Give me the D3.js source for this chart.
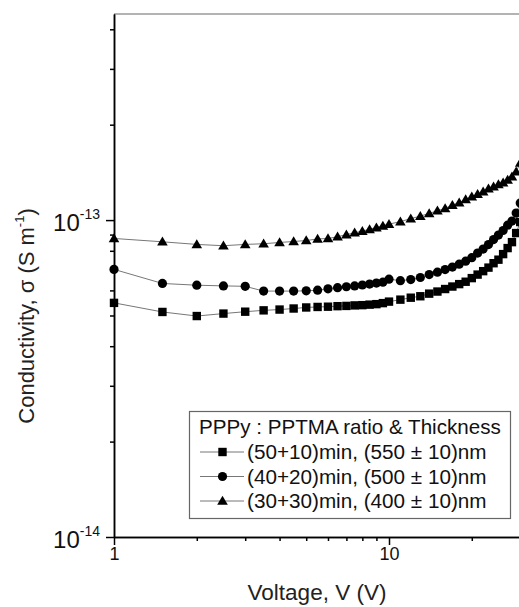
<!DOCTYPE html>
<html>
<head>
<meta charset="utf-8">
<script src="https://cdn.jsdelivr.net/npm/d3@7"></script>
<style>
  html, body { margin: 0; padding: 0; background: #fff; }
  svg { display: block; font-family: "Liberation Sans", Arial, Helvetica, sans-serif; }
</style>
</head>
<body>
<svg id="chart" width="519" height="607"></svg>
<script>
// Applied voltage (V)
const voltage = [1, 1.5, 2, 2.5, 3, 3.5, 4, 4.5, 5, 5.5, 6, 6.5, 7, 7.5, 8, 8.5, 9, 9.5, 10,
                 11, 12, 13, 14, 15, 16, 17, 18, 19, 20, 21, 22, 23, 24, 25, 26, 27, 28, 29, 30];

// Conductivity in units of 1e-13 S m^-1
const sigma5010 = [0.548, 0.513, 0.498, 0.507, 0.514, 0.519, 0.522, 0.526, 0.530, 0.532,
                   0.533, 0.535, 0.536, 0.538, 0.539, 0.541, 0.543, 0.547, 0.553,
                   0.561, 0.569, 0.575, 0.586, 0.595, 0.606, 0.617, 0.628, 0.639, 0.656,
                   0.673, 0.690, 0.708, 0.731, 0.750, 0.781, 0.816, 0.852, 0.910, 0.986];
const sigma4020 = [0.699, 0.631, 0.623, 0.620, 0.618, 0.597, 0.597, 0.597, 0.598, 0.601,
                   0.607, 0.612, 0.616, 0.620, 0.624, 0.628, 0.633, 0.637, 0.651,
                   0.644, 0.649, 0.659, 0.673, 0.685, 0.698, 0.711, 0.726, 0.742, 0.761,
                   0.787, 0.810, 0.837, 0.868, 0.897, 0.927, 0.964, 0.993, 1.052, 1.132];
const sigma3030 = [0.875, 0.854, 0.838, 0.830, 0.838, 0.842, 0.850, 0.856, 0.862, 0.872,
                   0.875, 0.886, 0.900, 0.912, 0.923, 0.935, 0.947, 0.959, 0.971,
                   0.989, 1.011, 1.029, 1.050, 1.070, 1.089, 1.115, 1.134, 1.162, 1.185,
                   1.208, 1.229, 1.256, 1.274, 1.296, 1.311, 1.338, 1.370, 1.421, 1.514];

const seriesNames = ["(50+10)min, (550 \u00B1 10)nm", "(40+20)min, (500 \u00B1 10)nm", "(30+30)min, (400 \u00B1 10)nm"];
const seriesSymbols = ["square", "circle", "triangle"];
const legendTitle = "PPPy : PPTMA ratio & Thickness";

const xMajorTicks = [1, 10];
const xMinorTicks = [2, 3, 4, 5, 6, 7, 8, 9, 20, 30];
const yMajorTicks = [0.1, 1];               // 1e-14, 1e-13
const yMajorExp = ["-14", "-13"];
const yMinorTicks = [0.2, 0.3, 0.4, 0.5, 0.6, 0.7, 0.8, 0.9, 2, 3, 4];

const series = [sigma5010, sigma4020, sigma3030].map((vals, i) => ({
  name: seriesNames[i],
  symbol: seriesSymbols[i],
  points: voltage.map((v, j) => ({ v, s: vals[j] }))
}));

const svg = d3.select("#chart");
const plotLeft = 114, plotTop = 14, plotBottom = 537;

const x = d3.scaleLog().domain([1, 100]).range([plotLeft, plotLeft + 550]);
const y = d3.scaleLog().domain([0.1, 4.47]).range([plotBottom, plotTop]);

// top frame line
svg.append("line")
  .attr("x1", plotLeft).attr("x2", 519).attr("y1", plotTop).attr("y2", plotTop)
  .attr("stroke", "#9a9a9a").attr("stroke-width", 1.5);

// x axis: minor then major ticks
const gxMinor = svg.append("g").attr("transform", `translate(0,${plotBottom})`)
  .call(d3.axisBottom(x).tickValues(xMinorTicks).tickSize(4).tickSizeOuter(0).tickFormat(""));
const gx = svg.append("g").attr("transform", `translate(0,${plotBottom})`)
  .call(d3.axisBottom(x).tickValues(xMajorTicks).tickSize(8).tickSizeOuter(0).tickPadding(2)
    .tickFormat(d3.format("d")));
gx.selectAll("text").attr("font-size", 18).attr("fill", "#111")
  .attr("font-family", "Liberation Sans, Arial, sans-serif");

// y axis
const gyMinor = svg.append("g").attr("transform", `translate(${plotLeft},0)`)
  .call(d3.axisLeft(y).tickValues(yMinorTicks).tickSize(4).tickSizeOuter(0).tickFormat(""));
const gy = svg.append("g").attr("transform", `translate(${plotLeft},0)`)
  .call(d3.axisLeft(y).tickValues(yMajorTicks).tickSize(8).tickSizeOuter(0).tickFormat(""));

[gxMinor, gx, gyMinor, gy].forEach(g => {
  g.selectAll("path.domain").attr("stroke", "#000").attr("stroke-width", 1.5);
  g.selectAll(".tick line").attr("stroke", "#000").attr("stroke-width", 1.5);
});

// y tick labels with exponent
yMajorTicks.forEach((t, i) => {
  const txt = svg.append("text")
    .attr("x", 100).attr("y", y(t) + 11)
    .attr("text-anchor", "end").attr("fill", "#111");
  txt.append("tspan").attr("font-size", 24).text("10");
  txt.append("tspan").attr("font-size", 14).attr("dy", -12).text(yMajorExp[i]);
});

// axis titles
svg.append("text")
  .attr("x", 317).attr("y", 600)
  .attr("text-anchor", "middle").attr("font-size", 22.5).attr("fill", "#222")
  .text("Voltage, V (V)");

const yt = svg.append("text")
  .attr("transform", "translate(34,316) rotate(-90)")
  .attr("text-anchor", "middle").attr("font-size", 22).attr("fill", "#222");
yt.append("tspan").text("Conductivity, \u03C3 (S m");
yt.append("tspan").attr("font-size", 13).attr("dy", -10).text("-1");
yt.append("tspan").attr("dy", 10).text(")");

// symbol generator
function drawSymbol(g, type, cx, cy) {
  if (type === "square") {
    g.append("rect").attr("x", cx - 4.2).attr("y", cy - 4.2).attr("width", 8.4).attr("height", 8.4).attr("fill", "#000");
  } else if (type === "circle") {
    g.append("circle").attr("cx", cx).attr("cy", cy).attr("r", 4.6).attr("fill", "#000");
  } else {
    g.append("path").attr("d", `M${cx},${cy - 5.2}L${cx + 5.3},${cy + 3.8}L${cx - 5.3},${cy + 3.8}Z`).attr("fill", "#000");
  }
}

const line = d3.line().x(d => x(d.v)).y(d => y(d.s));

series.forEach(s => {
  const g = svg.append("g");
  g.append("path").attr("d", line(s.points))
    .attr("fill", "none").attr("stroke", "#777").attr("stroke-width", 1);
  s.points.forEach(p => drawSymbol(g, s.symbol, x(p.v), y(p.s)));
});

// legend
const lg = svg.append("g");
lg.append("rect").attr("x", 189.5).attr("y", 411.5).attr("width", 321).attr("height", 107)
  .attr("fill", "#fff").attr("stroke", "#666").attr("stroke-width", 1.2);
lg.append("text").attr("x", 199).attr("y", 434).attr("font-size", 20.6).attr("fill", "#111")
  .text(legendTitle);
series.forEach((s, i) => {
  const cy = 452 + i * 24.5;
  lg.append("line").attr("x1", 200).attr("x2", 244).attr("y1", cy).attr("y2", cy)
    .attr("stroke", "#777").attr("stroke-width", 1);
  drawSymbol(lg, s.symbol, 222.5, cy);
  lg.append("text").attr("x", 247).attr("y", cy + 7).attr("font-size", 20.7).attr("fill", "#111")
    .text(s.name);
});
</script>
</body>
</html>
